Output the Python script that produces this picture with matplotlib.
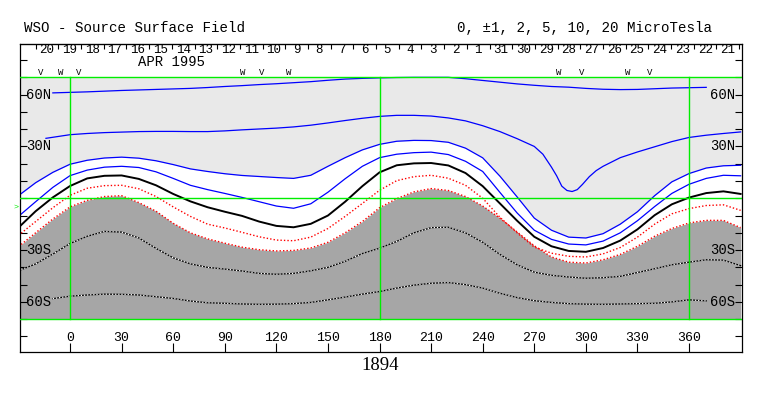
import matplotlib.pyplot as plt
import numpy as np

plt.rcParams['font.family'] = ['Liberation Mono', 'DejaVu Sans Mono']

# contour lines (Carrington longitude, latitude in degrees)
lon10 = np.arange(-30, 391, 10)
plus2 = [1.5, 9.0, 15.0, 19.7, 22.0, 23.3, 23.8, 23.2, 21.7, 19.5, 17.0, 15.5, 14.2, 13.2, 12.6,
         12.0, 11.5, 13.3, 18.5, 23.5, 28.0, 31.2, 33.0, 33.5, 33.4, 32.4, 29.0, 23.4, 12.8, 0.8,
         -11.5, -18.5, -22.5, -23.0, -20.5, -15.0, -7.8, 1.5, 9.5, 14.3, 17.5, 18.8, 19.1]
plus1 = [-10.5, -2.0, 6.3, 13.1, 16.3, 18.0, 18.5, 17.8, 15.3, 11.5, 7.5, 5.0, 2.8, 0.5, -2.0,
         -4.5, -5.8, -3.2, 3.5, 11.3, 18.5, 23.5, 25.5, 26.4, 26.7, 25.3, 21.4, 15.5, 3.4, -8.5,
         -18.5, -23.8, -26.5, -27.0, -24.8, -20.0, -13.0, -4.8, 2.8, 8.1, 11.5, 13.3, 13.0]
zero = [-17.0, -7.5, 0.5, 7.1, 11.5, 13.0, 13.2, 11.2, 7.5, 2.5, -1.8, -5.2, -7.8, -10.2, -13.5,
        -16.0, -16.8, -14.8, -10.0, -2.0, 7.0, 15.0, 19.1, 20.2, 20.4, 19.0, 14.6, 7.0, -3.0, -13.0,
        -22.3, -27.8, -30.5, -31.0, -28.8, -24.5, -18.0, -9.8, -3.5, 0.4, 3.0, 4.0, 2.5]
minus1 = [-21.5, -13.5, -5.5, 1.7, 5.8, 7.3, 7.5, 5.5, 1.0, -5.0, -10.5, -15.0, -17.2, -19.7, -22.3,
          -24.2, -24.6, -22.5, -17.5, -10.5, -3.0, 4.6, 10.2, 12.5, 13.3, 11.6, 7.5, 0.0, -11.0, -20.0,
          -28.3, -31.8, -33.6, -34.0, -32.2, -28.5, -22.5, -15.0, -9.0, -6.0, -4.2, -3.8, -7.0]
minus2 = [-28.0, -20.0, -12.0, -5.0, -1.2, 1.0, 1.5, -2.5, -7.5, -14.5, -20.0, -23.5, -26.0, -28.3, -29.8,
          -30.5, -30.2, -28.8, -25.5, -20.0, -13.5, -5.5, -0.2, 3.7, 5.6, 4.5, 1.0, -4.5, -11.5, -19.5,
          -27.5, -34.0, -37.0, -37.5, -35.6, -32.5, -27.8, -22.0, -17.5, -14.3, -12.8, -12.8, -17.0]
minus5 = [-42.0, -38.0, -32.3, -26.2, -22.0, -19.2, -19.6, -23.0, -29.0, -34.5, -38.0, -40.0, -41.0, -42.1, -43.5,
          -44.0, -43.5, -42.0, -40.0, -36.5, -32.0, -28.9, -25.0, -20.0, -17.0, -16.8, -20.0, -25.5, -32.5, -38.5,
          -42.8, -44.6, -45.6, -46.3, -46.0, -45.2, -43.0, -40.8, -38.5, -37.0, -35.6, -35.8, -39.0]

lon_outer = np.arange(-10, 371, 10)
plus10 = [61.0, 61.3, 61.6, 62.0, 62.4, 62.7, 63.0, 63.3, 63.6, 64.1, 64.7, 65.2, 65.8, 66.3, 66.9,
          67.5, 68.3, 69.0, 69.4, 69.7, 69.9, 70.0, 70.0, 70.0, 69.2, 68.2, 67.2, 66.2, 65.4, 64.7,
          64.3, 63.6, 63.1, 62.9, 63.0, 63.4, 63.8, 64.0, 64.2]
minus10 = [-58.1, -56.7, -56.0, -55.5, -55.6, -56.0, -57.0, -58.0, -59.5, -60.5, -60.8, -61.2, -61.4, -61.3, -61.0,
           -60.3, -58.8, -57.2, -55.5, -54.0, -52.0, -50.3, -49.2, -48.8, -50.0, -52.0, -55.0, -57.5, -59.3, -60.3,
           -61.0, -61.3, -61.4, -61.2, -61.0, -60.8, -60.0, -58.8, -59.4]

lon_p5 = [-14, -10, 0, 10, 20, 30, 40, 50, 60, 70, 80, 90, 100, 110, 120, 130, 140, 150, 160, 170, 180,
          190, 200, 210, 220, 230, 240, 250, 260, 270, 275, 280, 283, 286, 289, 292, 295, 298, 302, 306,
          310, 320, 330, 340, 350, 360, 370, 380, 390]
plus5 = [34.7, 35.3, 36.8, 37.5, 38.0, 38.3, 38.6, 38.7, 38.7, 38.6, 38.6, 39.0, 39.6, 40.1, 40.6, 41.3,
         42.3, 43.6, 45.0, 46.3, 47.4, 48.0, 48.0, 47.6, 46.5, 44.8, 42.0, 38.6, 34.5, 30.0, 25.5, 18.0,
         13.0, 7.0, 4.5, 3.9, 5.0, 8.0, 12.5, 16.0, 18.5, 23.5, 26.8, 29.8, 32.8, 35.2, 36.5, 37.5, 38.4]

days = ['20', '19', '18', '17', '16', '15', '14', '13', '12', '11', '10', '9', '8', '7', '6', '5',
        '4', '3', '2', '1', '31', '30', '29', '28', '27', '26', '25', '24', '23', '22', '21']
day_start = -20.0
day_step = 360 / 27.2753
sector_lon = [-16.9, -5.2, 5.2, 100.6, 111.7, 127.4, 284.4, 297.6, 324.1, 337.3]
sector_sym = ['V', 'W', 'V', 'W', 'V', 'W', 'W', 'V', 'W', 'V']
xtick_vals = list(range(0, 361, 30))
lat_labels = [60, 30, -30, -60]

fig = plt.figure(figsize=(7.63, 3.96), dpi=100)
ax = fig.add_axes([20 / 763, 1 - 352 / 396, 722 / 763, 308 / 396])
ax.set_xlim(-29.1, 390.8)
ax.set_ylim(-89, 89.3)

# polarity shading
ax.fill_between(lon10, plus2, 70, color='#e9e9e9', lw=0, zorder=1)
ax.fill_between(lon10, -70, minus2, color='#a6a6a6', lw=0, zorder=1)

ax.plot(lon_outer, plus10, color='#0000ff', lw=0.9, zorder=2)
ax.plot(lon_p5, plus5, color='#0000ff', lw=0.9, zorder=2)
ax.plot(lon10, plus2, color='#0000ff', lw=0.9, zorder=2)
ax.plot(lon10, plus1, color='#0000ff', lw=0.9, zorder=2)
ax.plot(lon10, zero, color='black', lw=1.4, zorder=2)
ax.plot(lon10, minus1, color='#ff0000', lw=1.0, ls=(0, (1, 1.5)), zorder=2)
ax.plot(lon10, minus2, color='#ff0000', lw=1.0, ls=(0, (1, 1.5)), zorder=2)
for neg in [(lon10, minus5), (lon_outer, minus10)]:
    ax.plot(neg[0], neg[1], color='black', lw=0.9, zorder=2)
    ax.plot(neg[0], neg[1], color='white', lw=0.9, ls=(0, (1, 1.5)), zorder=2)

# green reference lines
for lat in [70, 0, -70]:
    ax.axhline(lat, color='#00ee00', lw=1.0, zorder=3)
for lon in [0, 180, 360]:
    ax.plot([lon, lon], [-70, 70], color='#00ee00', lw=1.0, zorder=3)

# ticks
ax.set_xticks(xtick_vals)
ax.set_xticklabels([])
ax.set_yticks(range(-80, 81, 10))
ax.set_yticklabels([])
ax.tick_params(axis='x', direction='in', length=6.5, width=0.8, top=False)
ax.tick_params(axis='y', direction='in', length=5, width=0.8, left=True, right=True)
for s in ax.spines.values():
    s.set_linewidth(0.9)

top = ax.secondary_xaxis('top')
top.set_xticks([day_start + k * day_step for k in range(len(days) + 1)])
top.set_xticklabels([])
top.tick_params(direction='in', length=3.5, width=0.8)

for k, d in enumerate(days):
    ax.text(day_start + (k + 0.5) * day_step, 85.8, d, ha='center', va='center', fontsize=9)
ax.text(59.2, 78.7, 'APR 1995', ha='center', va='center', fontsize=10)
for lon, sym in zip(sector_lon, sector_sym):
    ax.text(lon, 70.3, sym, ha='center', va='bottom', fontsize=6.5)

for lat in lat_labels:
    lab = f'{abs(lat)}{"N" if lat > 0 else "S"}'
    ax.text(-25.5, lat, lab, ha='left', va='center', fontsize=10, zorder=4)
    ax.text(386.8, lat, lab, ha='right', va='center', fontsize=10, zorder=4)
for v in xtick_vals:
    ax.text(v, -81, str(v), ha='center', va='center', fontsize=9.5)

ax.text(-31.5, -5, '>', color='#00ee00', fontsize=6, ha='center', va='center', clip_on=False)

fig.text(24 / 763, 1 - 27.7 / 396, 'WSO - Source Surface Field', ha='left', va='center', fontsize=10.2)
fig.text(456.7 / 763, 1 - 27.7 / 396, '0, \u00b11, 2, 5, 10, 20 MicroTesla', ha='left', va='center', fontsize=10.2)
fig.text(380.4 / 763, 1 - 366 / 396, '1894', ha='center', va='center', fontsize=13.5,
         family=['Liberation Serif', 'DejaVu Serif'])

fig.savefig('out.png', dpi=100)
